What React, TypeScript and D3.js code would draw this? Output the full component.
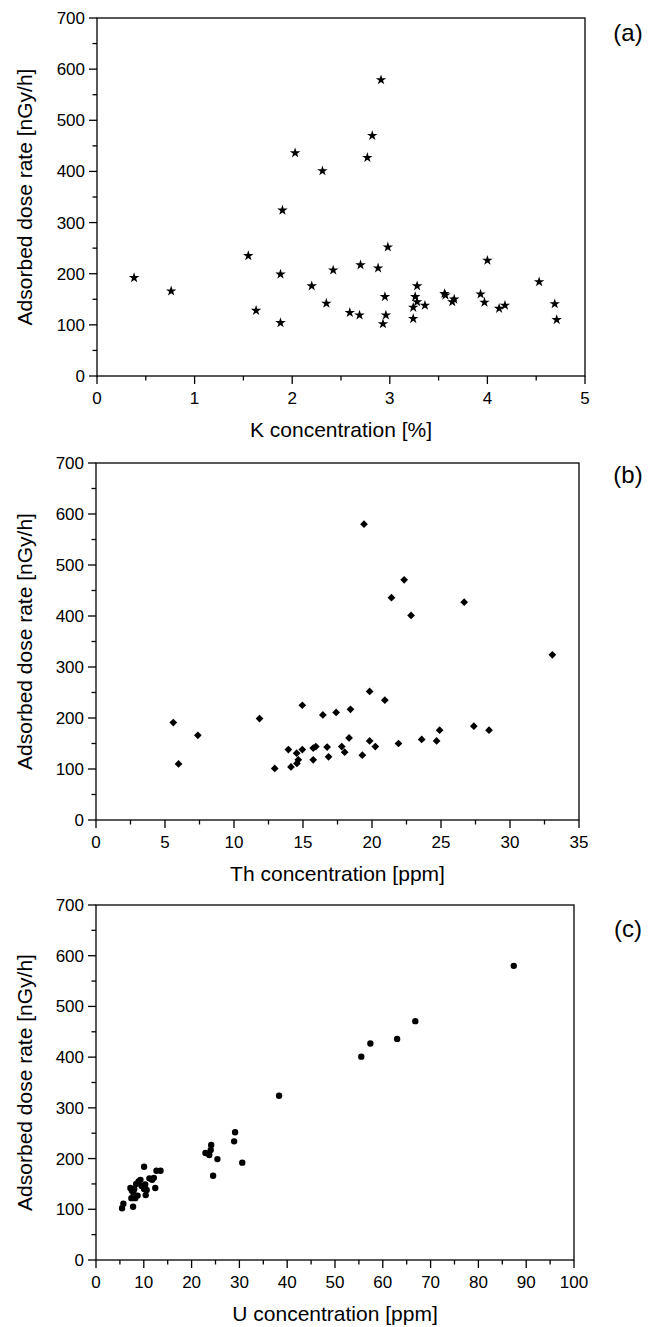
import React from "react";
import * as d3 from "d3";

// ---- Data ----
const kConc = [0.38, 0.76, 1.55, 1.63, 1.88, 1.88, 1.9, 2.03, 2.2, 2.31, 2.35, 2.42, 2.59, 2.69, 2.7, 2.77, 2.82, 2.88, 2.91, 2.93, 2.95, 2.96, 2.98, 3.24, 3.24, 3.26, 3.28, 3.28, 3.36, 3.56, 3.57, 3.64, 3.66, 3.93, 3.97, 4.0, 4.12, 4.18, 4.53, 4.69, 4.71];
const kDose = [192, 166, 235, 128, 104, 199, 324, 436, 176, 401, 142, 207, 124, 119, 217, 427, 470, 211, 579, 102, 155, 119, 252, 112, 134, 155, 145, 176, 138, 161, 158, 145, 150, 160, 144, 226, 132, 138, 184, 141, 110];

const thConc = [5.6, 5.98, 7.38, 11.85, 12.95, 13.94, 14.13, 14.54, 14.56, 14.66, 14.95, 14.95, 15.74, 15.74, 15.93, 16.44, 16.75, 16.85, 17.4, 17.81, 18.02, 18.34, 18.44, 19.3, 19.42, 19.83, 19.83, 20.24, 20.93, 21.41, 21.92, 22.33, 22.83, 23.6, 24.68, 24.9, 26.68, 27.38, 28.48, 33.07];
const thDose = [191, 110, 166, 199, 101, 138, 104, 131, 111, 118, 225, 138, 141, 118, 144, 206, 143, 124, 211, 144, 133, 161, 217, 127, 580, 252, 155, 144, 235, 436, 150, 471, 401, 158, 155, 176, 427, 184, 176, 324];

const uConc = [5.45, 5.73, 7.76, 7.2, 7.5, 7.4, 8.2, 7.8, 8.0, 8.4, 8.9, 9.3, 9.56, 10.06, 10.06, 10.4, 10.6, 10.3, 8.7, 11.17, 11.74, 12.1, 12.4, 12.65, 13.5, 22.9, 23.7, 24.0, 24.1, 24.5, 25.4, 28.9, 29.1, 30.6, 38.3, 55.5, 57.4, 63.0, 66.8, 87.4];
const uDose = [102, 111, 105, 142, 137, 122, 122, 133, 140, 150, 155, 158, 146, 140, 184, 128, 138, 149, 127, 161, 158, 162, 142, 176, 176, 211, 207, 217, 227, 166, 199, 234, 252, 192, 324, 401, 427, 436, 471, 580];

const doseTicks = [0, 100, 200, 300, 400, 500, 600, 700];
const kTicks = [0, 1, 2, 3, 4, 5];
const thTicks = [0, 5, 10, 15, 20, 25, 30, 35];
const uTicks = [0, 10, 20, 30, 40, 50, 60, 70, 80, 90, 100];

const yTitle = "Adsorbed dose rate [nGy/h]";

type PanelProps = {
  xs: number[];
  ys: number[];
  xTicks: number[];
  xMinorStep: number;
  xTitle: string;
  tag: string;
  left: number;
  right: number;
  top: number;
  bottom: number;
  tagY: number;
  marker: "star" | "diamond" | "circle";
};

const FONT = "'Liberation Sans', Arial, sans-serif";

function Panel(p: PanelProps) {
  const xMax = p.xTicks[p.xTicks.length - 1];
  const x = d3.scaleLinear().domain([0, xMax]).range([p.left, p.right]);
  const y = d3.scaleLinear().domain([0, 700]).range([p.bottom, p.top]);
  const xMinor = d3.range(0, xMax + 1e-9, p.xMinorStep).filter((v) => !p.xTicks.some((t) => Math.abs(t - v) < 1e-9));
  const yMinor = d3.range(50, 700, 100);
  let sym: string;
  let rot = 0;
  if (p.marker === "star") sym = d3.symbol().type(d3.symbolStar).size(34)()!;
  else if (p.marker === "diamond") {
    sym = d3.symbol().type(d3.symbolSquare).size(30)()!;
    rot = 45;
  } else sym = d3.symbol().type(d3.symbolCircle).size(32)()!;
  const cy = (p.top + p.bottom) / 2;
  const cx = (p.left + p.right) / 2;
  return (
    <g>
      <rect x={p.left} y={p.top} width={p.right - p.left} height={p.bottom - p.top} fill="none" stroke="#000" strokeWidth={1.3} />
      {p.xTicks.map((t) => (
        <g key={"xt" + t}>
          <line x1={x(t)} x2={x(t)} y1={p.bottom} y2={p.bottom + 8} stroke="#000" strokeWidth={1.3} />
          <text x={x(t)} y={p.bottom + 28} textAnchor="middle" fontSize={17} fontFamily={FONT}>{t}</text>
        </g>
      ))}
      {xMinor.map((t) => (
        <line key={"xm" + t} x1={x(t)} x2={x(t)} y1={p.bottom} y2={p.bottom + 4.5} stroke="#000" strokeWidth={1.3} />
      ))}
      {doseTicks.map((t) => (
        <g key={"yt" + t}>
          <line x1={p.left - 8} x2={p.left} y1={y(t)} y2={y(t)} stroke="#000" strokeWidth={1.3} />
          <text x={p.left - 12} y={y(t) + 6} textAnchor="end" fontSize={17} fontFamily={FONT}>{t}</text>
        </g>
      ))}
      {yMinor.map((t) => (
        <line key={"ym" + t} x1={p.left - 4.5} x2={p.left} y1={y(t)} y2={y(t)} stroke="#000" strokeWidth={1.3} />
      ))}
      <text x={cx} y={p.bottom + 61} textAnchor="middle" fontSize={21} fontFamily={FONT}>{p.xTitle}</text>
      <text transform={`translate(${32},${cy}) rotate(-90)`} textAnchor="middle" fontSize={21} fontFamily={FONT}>{yTitle}</text>
      <text x={628} y={p.tagY + 8} textAnchor="middle" fontSize={24} fontFamily={FONT}>{p.tag}</text>
      {p.xs.map((v, i) => (
        <path key={i} d={sym} transform={`translate(${x(v)},${y(p.ys[i])}) rotate(${rot})`} fill="#000" />
      ))}
    </g>
  );
}

export default function App() {
  return (
    <svg width={648} height={1327} style={{ position: "absolute", left: 0, top: 0, background: "#fff" }}>
      <rect width={648} height={1327} fill="#fff" />
      <Panel xs={kConc} ys={kDose} xTicks={kTicks} xMinorStep={0.5} xTitle="K concentration [%]" tag="(a)" left={97} right={585} top={18} bottom={376} tagY={33} marker="star" />
      <Panel xs={thConc} ys={thDose} xTicks={thTicks} xMinorStep={2.5} xTitle="Th concentration [ppm]" tag="(b)" left={96} right={579} top={463} bottom={820} tagY={475} marker="diamond" />
      <Panel xs={uConc} ys={uDose} xTicks={uTicks} xMinorStep={5} xTitle="U concentration [ppm]" tag="(c)" left={96} right={574} top={905} bottom={1260} tagY={929} marker="circle" />
    </svg>
  );
}
